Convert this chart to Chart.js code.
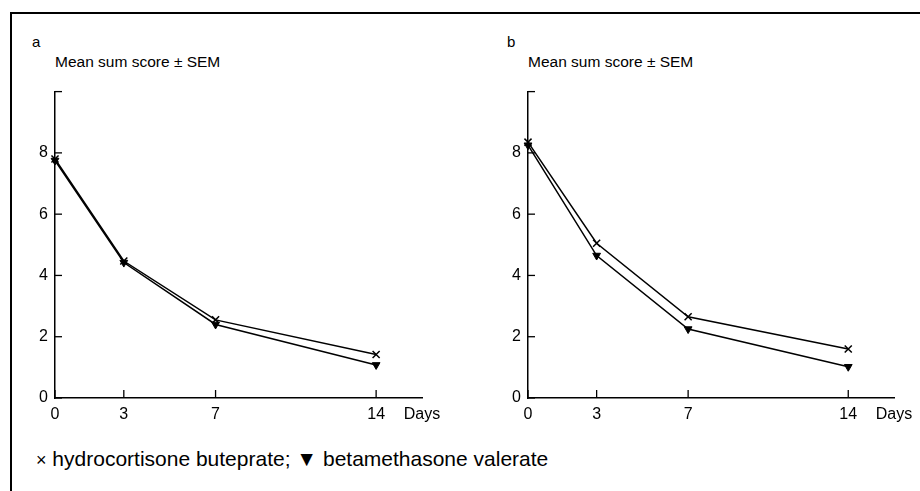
<!DOCTYPE html>
<html>
<head>
<meta charset="utf-8">
<script src="https://cdn.jsdelivr.net/npm/chart.js@4/dist/chart.umd.min.js"></script>
<style>
    html, body { margin: 0; padding: 0; background: #fff; }
    body { width: 920px; height: 491px; position: relative; overflow: hidden; font-family: "Liberation Sans", Arial, sans-serif; color: #000; }
    .frame { position: absolute; left: 10px; top: 12px; width: 920px; height: 500px; border-top: 2px solid #000; border-left: 2px solid #000; }
    .panel-letter { position: absolute; font-size: 15px; }
    .panel-title { position: absolute; font-size: 15.5px; }
    .legend { position: absolute; left: 36px; top: 447px; font-size: 21px; }
    .legend .x { font-size: 18px; }
    .chart-box { position: absolute; top: 75px; width: 460px; height: 350px; }
</style>
</head>
<body>
<div class="frame"></div>

<div class="panel-letter" style="left:32px; top:33px;">a</div>
<div class="panel-title" style="left:55px; top:53px;">Mean sum score ± SEM</div>
<div class="panel-letter" style="left:507px; top:33px;">b</div>
<div class="panel-title" style="left:528px; top:53px;">Mean sum score ± SEM</div>

<div class="chart-box" style="left:0px;"><canvas id="chartA"></canvas></div>
<div class="chart-box" style="left:460px;"><canvas id="chartB"></canvas></div>

<div class="legend"><span class="x">×</span> hydrocortisone buteprate; ▼ betamethasone valerate</div>

<script>
const days = [0, 3, 7, 14];
const xTicks = [0, 3, 7, 14, 16];
const yTicks = [0, 2, 4, 6, 8, 10];

// panel a
const hbA = [7.8, 4.47, 2.55, 1.42];
const bvA = [7.75, 4.42, 2.4, 1.08];

// panel b
const hbB = [8.35, 5.05, 2.65, 1.6];
const bvB = [8.25, 4.65, 2.25, 1.02];

const inwardTicks = {
    id: 'inwardTicks',
    afterDraw(chart) {
        const ctx = chart.ctx;
        const x = chart.scales.x;
        const y = chart.scales.y;
        ctx.save();
        ctx.strokeStyle = '#000';
        ctx.lineWidth = 1.3;
        y.ticks.forEach(t => {
            const py = y.getPixelForValue(t.value);
            ctx.beginPath();
            ctx.moveTo(x.left, py);
            ctx.lineTo(x.left + 7, py);
            ctx.stroke();
        });
        x.ticks.forEach(t => {
            if (t.value > 14) return;
            const px = x.getPixelForValue(t.value);
            ctx.beginPath();
            ctx.moveTo(px, y.bottom);
            ctx.lineTo(px, y.bottom - 8);
            ctx.stroke();
        });
        ctx.restore();
    }
};

function toPoints(values) {
    return days.map((d, i) => ({ x: d, y: values[i] }));
}

function makeChart(id, hb, bv, axisWidth, rightPad) {
    const ctx = document.getElementById(id).getContext('2d');
    return new Chart(ctx, {
        type: 'scatter',
        data: {
            datasets: [
                {
                    label: 'hydrocortisone buteprate',
                    data: toPoints(hb),
                    showLine: true,
                    borderColor: '#000',
                    backgroundColor: '#000',
                    borderWidth: 1.5,
                    pointStyle: 'crossRot',
                    pointRadius: 5,
                    pointBorderWidth: 1.5,
                    clip: false
                },
                {
                    label: 'betamethasone valerate',
                    data: toPoints(bv),
                    showLine: true,
                    borderColor: '#000',
                    backgroundColor: '#000',
                    borderWidth: 1.5,
                    pointStyle: 'triangle',
                    pointRotation: 180,
                    pointRadius: 4.5,
                    pointBorderWidth: 1,
                    clip: false
                }
            ]
        },
        options: {
            responsive: true,
            maintainAspectRatio: false,
            animation: false,
            layout: {
                padding: { top: 8, right: rightPad, bottom: 0, left: 0 }
            },
            plugins: {
                legend: { display: false },
                tooltip: { enabled: false }
            },
            scales: {
                x: {
                    type: 'linear',
                    min: 0,
                    max: 16,
                    afterBuildTicks: function (scale) {
                        scale.ticks = xTicks.map(v => ({ value: v }));
                    },
                    afterFit: function (scale) {
                        scale.height = 27;
                    },
                    grid: { display: false, drawTicks: false },
                    border: { display: true, color: '#000', width: 1.5 },
                    ticks: {
                        color: '#000',
                        padding: 7,
                        maxRotation: 0,
                        autoSkip: false,
                        font: { family: 'Liberation Sans', size: 16 },
                        callback: function (value) {
                            return value === 16 ? 'Days' : value;
                        }
                    }
                },
                y: {
                    type: 'linear',
                    min: 0,
                    max: 10,
                    afterBuildTicks: function (scale) {
                        scale.ticks = yTicks.map(v => ({ value: v }));
                    },
                    afterFit: function (scale) {
                        scale.width = axisWidth;
                    },
                    grid: { display: false, drawTicks: false },
                    border: { display: true, color: '#000', width: 1.5 },
                    ticks: {
                        color: '#000',
                        padding: 7,
                        font: { family: 'Liberation Sans', size: 16 },
                        callback: function (value) {
                            return value === 10 ? '' : value;
                        }
                    }
                }
            }
        },
        plugins: [inwardTicks]
    });
}

makeChart('chartA', hbA, bvA, 55, 38);
makeChart('chartB', hbB, bvB, 68, 26);
</script>
</body>
</html>
